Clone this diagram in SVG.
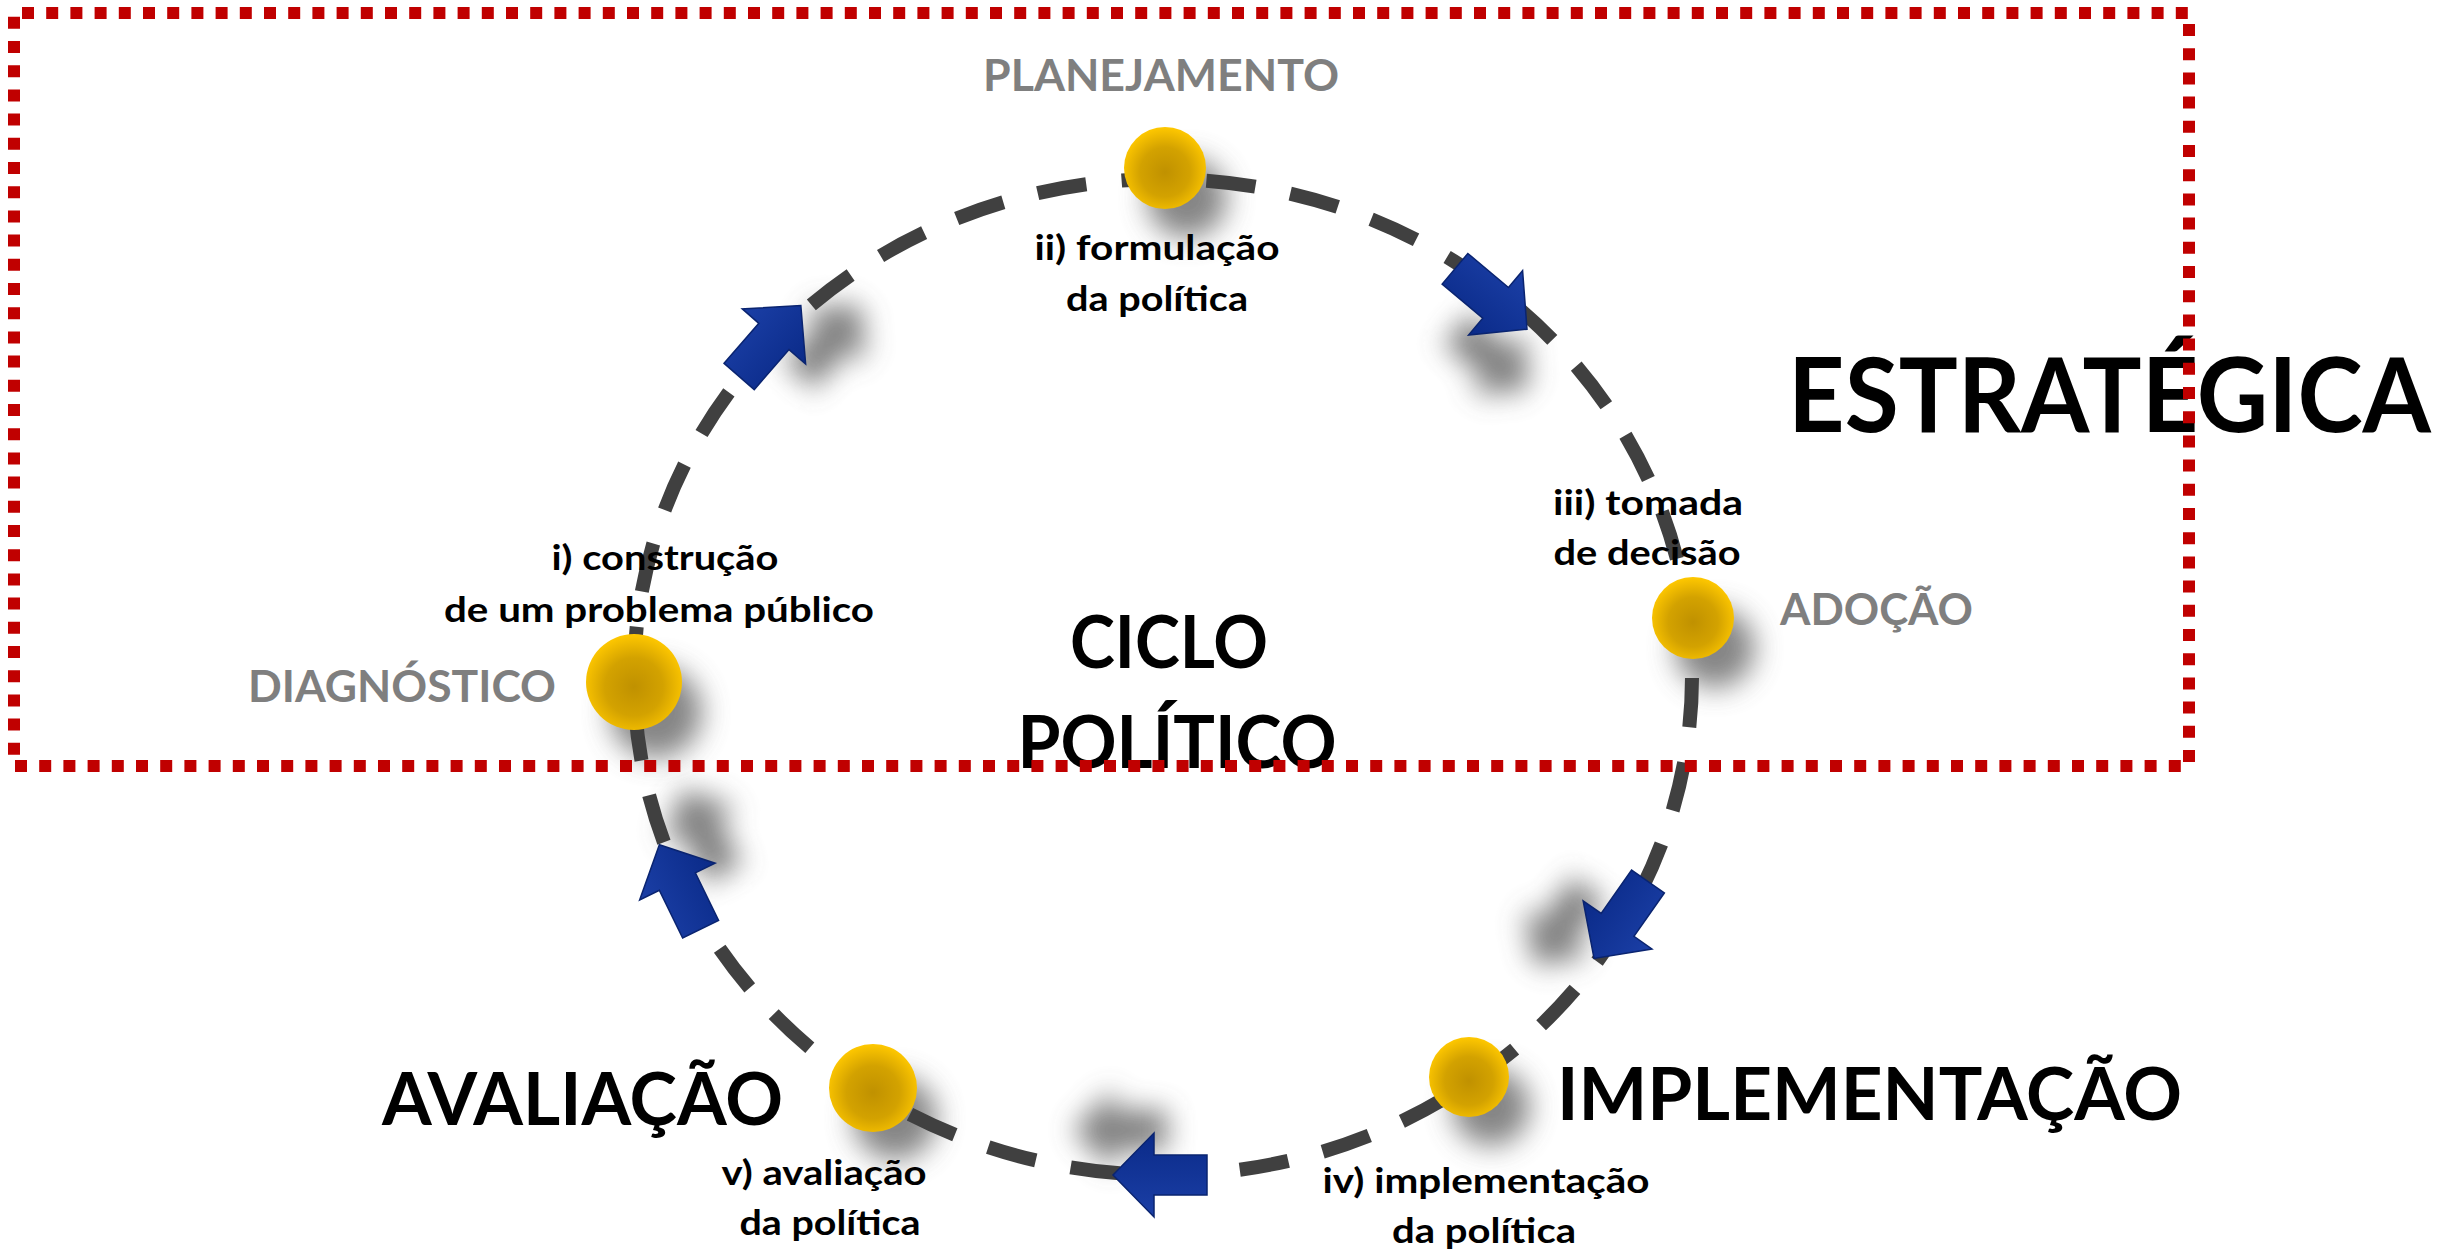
<svg xmlns="http://www.w3.org/2000/svg" width="2443" height="1257" viewBox="0 0 2443 1257">
<defs>
<style>
text { font-family: Lato, "Open Sans", "Liberation Sans", sans-serif; font-weight: 700; }
.gray { fill: #7F7F7F; font-size: 44px; }
.big { fill: #000000; font-size: 72px; }
.lbl { fill: #000000; font-size: 35px; text-anchor: middle; }
.mid { text-anchor: middle; }
.node { fill: url(#gold); }
.nshadow { fill: #666666; filter: url(#soft); opacity: 0.8; }
.ashadow { fill: #555555; filter: url(#soft); opacity: 0.75; }
.arrow { fill: url(#blue); stroke: #0A2470; stroke-width: 1.5; stroke-linejoin: miter; }
</style>
<radialGradient id="gold" cx="50%" cy="55%" r="55%">
<stop offset="0" stop-color="#C09100"/>
<stop offset="0.55" stop-color="#D3A200"/>
<stop offset="1" stop-color="#FFC800"/>
</radialGradient>
<linearGradient id="blue" x1="0" y1="0" x2="0" y2="1">
<stop offset="0" stop-color="#1B3FA6"/>
<stop offset="1" stop-color="#0A2A88"/>
</linearGradient>
<filter id="soft" x="-100%" y="-100%" width="300%" height="300%">
<feGaussianBlur stdDeviation="14"/>
</filter>
<path id="arr" d="M-47,-20 L6,-20 L6,-42 L47,0 L6,42 L6,20 L-47,20 Z"/>
</defs>

<rect x="0" y="0" width="2443" height="1257" fill="#FFFFFF"/>

<g id="shadows">
<use href="#arr" class="ashadow" transform="translate(770,341) rotate(-49) translate(40,45)"/>
<use href="#arr" class="ashadow" transform="translate(1491,299) rotate(40) translate(40,45)"/>
<use href="#arr" class="ashadow" transform="translate(1621,920) rotate(125) translate(40,45)"/>
<use href="#arr" class="ashadow" transform="translate(1160,1175) rotate(180) translate(40,45)"/>
<use href="#arr" class="ashadow" transform="translate(680,887) rotate(-116) translate(40,45)"/>
<circle class="nshadow" cx="1187" cy="198" r="40"/>
<circle class="nshadow" cx="656" cy="712" r="46"/>
<circle class="nshadow" cx="1715" cy="648" r="40"/>
<circle class="nshadow" cx="1491" cy="1107" r="39"/>
<circle class="nshadow" cx="895" cy="1118" r="42"/>
</g>

<g id="connectors">
<path d="M1163,179 A529,498 0 1,1 1163,1175 A529,498 0 1,1 1163,179" fill="none" stroke="#404040" stroke-width="14" pathLength="3268" stroke-dasharray="50 36" stroke-dashoffset="42"/>
<use href="#arr" class="arrow" transform="translate(770,341) rotate(-49)"/>
<use href="#arr" class="arrow" transform="translate(1491,299) rotate(40)"/>
<use href="#arr" class="arrow" transform="translate(1621,920) rotate(125)"/>
<use href="#arr" class="arrow" transform="translate(1160,1175) rotate(180)"/>
<use href="#arr" class="arrow" transform="translate(680,887) rotate(-116)"/>
</g>

<g id="node-formulacao">
<circle class="node" cx="1165" cy="168" r="41"/>
<text class="gray mid" x="1161" y="91" textLength="356" lengthAdjust="spacingAndGlyphs">PLANEJAMENTO</text>
<text class="lbl" x="1157" y="260" textLength="245" lengthAdjust="spacingAndGlyphs">ii) formulação</text>
<text class="lbl" x="1157" y="311" textLength="182" lengthAdjust="spacingAndGlyphs">da política</text>
</g>

<g id="node-decisao">
<circle class="node" cx="1693" cy="618" r="41"/>
<text class="lbl" x="1648" y="515" textLength="190" lengthAdjust="spacingAndGlyphs">iii) tomada</text>
<text class="lbl" x="1647" y="565" textLength="187" lengthAdjust="spacingAndGlyphs">de decisão</text>
<text class="gray" x="1780" y="625" textLength="193" lengthAdjust="spacingAndGlyphs">ADOÇÃO</text>
</g>

<g id="node-implementacao">
<circle class="node" cx="1469" cy="1077" r="40"/>
<text class="big" x="1557" y="1120" textLength="625" lengthAdjust="spacingAndGlyphs">IMPLEMENTAÇÃO</text>
<text class="lbl" x="1486" y="1193" textLength="327" lengthAdjust="spacingAndGlyphs">iv) implementação</text>
<text class="lbl" x="1484" y="1243" textLength="184" lengthAdjust="spacingAndGlyphs">da política</text>
</g>

<g id="node-avaliacao">
<circle class="node" cx="873" cy="1088" r="44"/>
<text class="big" x="382" y="1125" textLength="401" lengthAdjust="spacingAndGlyphs">AVALIAÇÃO</text>
<text class="lbl" x="824" y="1185" textLength="205" lengthAdjust="spacingAndGlyphs">v) avaliação</text>
<text class="lbl" x="830" y="1235" textLength="181" lengthAdjust="spacingAndGlyphs">da política</text>
</g>

<g id="node-construcao">
<circle class="node" cx="634" cy="682" r="48"/>
<text class="gray" x="248" y="702" textLength="308" lengthAdjust="spacingAndGlyphs">DIAGNÓSTICO</text>
<text class="lbl" x="665" y="570" textLength="227" lengthAdjust="spacingAndGlyphs">i) construção</text>
<text class="lbl" x="659" y="622" textLength="430" lengthAdjust="spacingAndGlyphs">de um problema público</text>
</g>

<g id="center-title">
<text class="big mid" x="1169" y="668" font-size="71" textLength="198" lengthAdjust="spacingAndGlyphs">CICLO</text>
<text class="big mid" x="1177" y="768" font-size="71" textLength="319" lengthAdjust="spacingAndGlyphs">POLÍTICO</text>
</g>

<g id="estrategica">
<text x="1788" y="432" fill="#000000" font-size="103" textLength="643" lengthAdjust="spacingAndGlyphs">ESTRATÉGICA</text>
<rect x="14" y="13" width="2175" height="753" fill="none" stroke="#C00000" stroke-width="12" stroke-dasharray="12 12.2" stroke-dashoffset="16.2"/>
</g>
</svg>
